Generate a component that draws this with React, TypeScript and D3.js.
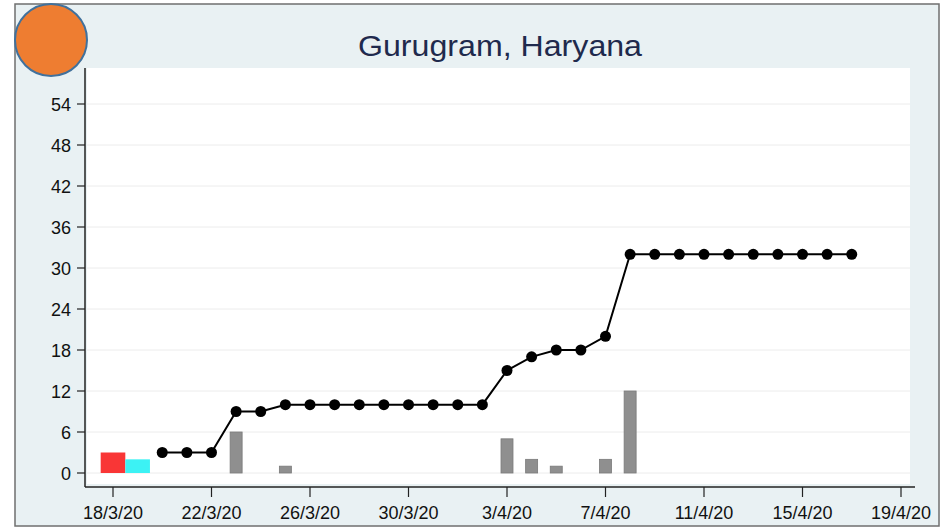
import React from 'react';
import * as d3 from 'd3';

// cumulative cases (line) by day, starting 20/3/20
const lineStart = new Date(2020, 2, 20);
const cumulative = [3, 3, 3, 9, 9, 10, 10, 10, 10, 10, 10, 10, 10, 10, 15, 17, 18, 18, 20, 32, 32, 32, 32, 32, 32, 32, 32, 32, 32];

// daily new cases (grey bars)
const dailyDates = ['2020-03-23', '2020-03-25', '2020-04-03', '2020-04-04', '2020-04-05', '2020-04-07', '2020-04-08'];
const dailyValues = [6, 1, 5, 2, 1, 2, 12];

// coloured blocks at start
const markerDates = ['2020-03-18', '2020-03-19'];
const markerValues = [3, 2];
const markerColors = ['#f93636', '#3cf2f4'];

const yTicks = [0, 6, 12, 18, 24, 30, 36, 42, 48, 54];
const xTickDates = ['2020-03-18', '2020-03-22', '2020-03-26', '2020-03-30', '2020-04-03', '2020-04-07', '2020-04-11', '2020-04-15', '2020-04-19'];

const parse = (s: string) => {
  const [y, m, d] = s.split('-').map(Number);
  return new Date(y, m - 1, d);
};

export default function App() {
  const width = 941;
  const height = 528;

  const x = d3.scaleTime()
    .domain([parse('2020-03-18'), parse('2020-04-19')])
    .range([113, 901]);
  const y = d3.scaleLinear().domain([0, 54]).range([473, 104]);
  const dayW = x(parse('2020-03-19')) - x(parse('2020-03-18'));

  const lineData = cumulative.map((v, i) => ({ date: d3.timeDay.offset(lineStart, i), value: v }));
  const line = d3.line<{ date: Date; value: number }>()
    .x(d => x(d.date))
    .y(d => y(d.value));

  const fmt = (d: Date) => `${d.getDate()}/${d.getMonth() + 1}/${String(d.getFullYear()).slice(2)}`;

  const plotLeft = 86;
  const plotRight = 915;
  const plotTop = 68;
  const plotBottom = 487;

  return (
    <svg width={width} height={height} style={{ position: 'absolute', left: 0, top: 0 }}
      fontFamily="Liberation Sans, Arial, sans-serif">
      <rect x={15} y={4} width={924} height={522} fill="#e9f1f3" stroke="#6f6f6f" strokeWidth={1.5} />
      <rect x={plotLeft + 1} y={plotTop} width={910 - plotLeft - 1} height={plotBottom - plotTop - 3} fill="#ffffff" />

      {/* grid */}
      {yTicks.map(t => (
        <line key={`g${t}`} x1={plotLeft + 1} x2={910} y1={y(t)} y2={y(t)} stroke="#ececec" strokeWidth={1} />
      ))}

      {/* title */}
      <text x={500} y={56} textAnchor="middle" fontSize={30} fill="#1f2a4d"
        textLength={284} lengthAdjust="spacingAndGlyphs">Gurugram, Haryana</text>

      {/* coloured blocks */}
      {markerDates.map((d, i) => (
        <rect key={d} x={x(parse(d)) - dayW / 2} y={y(markerValues[i])} width={dayW}
          height={y(0) - y(markerValues[i])} fill={markerColors[i]} />
      ))}

      {/* grey bars */}
      {dailyDates.map((d, i) => (
        <rect key={d} x={x(parse(d)) - 6} y={y(dailyValues[i])} width={12}
          height={y(0) - y(dailyValues[i])} fill="#8f8f8f" stroke="#7a7a7a" strokeWidth={0.8} />
      ))}

      {/* line */}
      <path d={line(lineData) ?? ''} fill="none" stroke="#000" strokeWidth={2} />
      {lineData.map((d, i) => (
        <circle key={i} cx={x(d.date)} cy={y(d.value)} r={5.5} fill="#000" />
      ))}

      {/* axes */}
      <line x1={plotLeft - 1} x2={plotLeft - 1} y1={plotTop} y2={plotBottom} stroke="#222" strokeWidth={1.5} />
      <line x1={plotLeft - 1} x2={plotRight} y1={plotBottom} y2={plotBottom} stroke="#222" strokeWidth={1.5} />
      {yTicks.map(t => (
        <g key={`y${t}`}>
          <line x1={plotLeft - 9} x2={plotLeft - 1} y1={y(t)} y2={y(t)} stroke="#222" strokeWidth={1.2} />
          <text x={plotLeft - 15} y={y(t) + 6.5} textAnchor="end" fontSize={18} fill="#111">{t}</text>
        </g>
      ))}
      {xTickDates.map(s => {
        const d = parse(s);
        return (
          <g key={s}>
            <line x1={x(d)} x2={x(d)} y1={plotBottom} y2={plotBottom + 10} stroke="#222" strokeWidth={1.2} />
            <text x={x(d)} y={519} textAnchor="middle" fontSize={18} fill="#111">{fmt(d)}</text>
          </g>
        );
      })}

      {/* orange badge */}
      <circle cx={51} cy={40} r={36} fill="#ee7d31" stroke="#41719c" strokeWidth={2} />
    </svg>
  );
}
